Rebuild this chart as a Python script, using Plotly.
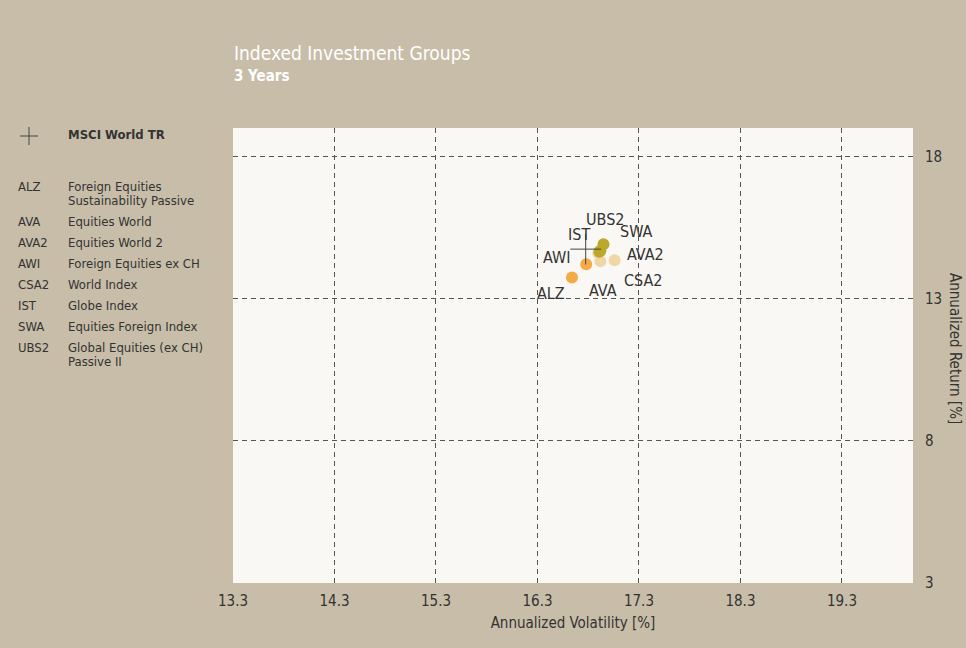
import plotly.graph_objects as go

# ---------------- data ----------------
funds = ["ALZ", "AVA", "AVA2", "AWI", "CSA2", "IST", "SWA", "UBS2"]
fund_names = [
    "Foreign Equities<br>Sustainability Passive",
    "Equities World",
    "Equities World 2",
    "Foreign Equities ex CH",
    "World Index",
    "Globe Index",
    "Equities Foreign Index",
    "Global Equities (ex CH)<br>Passive II",
]
volatility = [16.64, 16.92, 17.06, 16.78, 16.90, 16.91, 16.92, 16.95]
annual_return = [13.74, 14.31, 14.35, 14.21, 14.60, 14.65, 14.68, 14.91]

benchmark_name = "MSCI World TR"
benchmark_vol = [16.775]
benchmark_ret = [14.74]

x_ticks = [13.3, 14.3, 15.3, 16.3, 17.3, 18.3, 19.3]
x_tick_labels = ["13.3", "14.3", "15.3", "16.3", "17.3", "18.3", "19.3"]
y_ticks = [3, 8, 13, 18]
y_tick_labels = ["3", "8", "13", "18"]

# ---------------- styles ----------------
W, H = 966, 648
ML, MR, MT, MB = 233, 53, 128, 65
PW, PH = W - ML - MR, H - MT - MB
FONT = "DejaVu Sans Condensed, Liberation Sans Narrow, sans-serif"
TXT = "#333333"
BG = "#C8BDA8"
PLOT_BG = "#FAF8F4"

point_colors = {
    "ALZ": "#F5AA48", "AWI": "#F5AA48",
    "AVA": "#F0D6A6", "AVA2": "#F0D6A6", "CSA2": "#F0D6A6",
    "IST": "#BBA82A", "SWA": "#BBA82A", "UBS2": "#BBA82A",
}
# label offsets in pixels (dx right, dy down)
label_offsets = {
    "UBS2": (2, -25), "SWA": (36, -19), "IST": (-20, -17), "AWI": (-30, -7),
    "AVA": (3, 29), "AVA2": (31, -6), "CSA2": (45, 27), "ALZ": (-21, 16),
}


def px(x):
    return (x - ML) / PW


def py(y):
    return (H - MB - y) / PH


fig = go.Figure()

fig.add_trace(go.Scatter(
    x=volatility, y=annual_return, mode="markers",
    marker=dict(size=12, color=[point_colors[f] for f in funds], line=dict(width=0)),
    hoverinfo="text", text=funds, showlegend=False,
))
fig.add_trace(go.Scatter(
    x=benchmark_vol, y=benchmark_ret, mode="markers",
    marker=dict(symbol="cross-thin", size=22, line=dict(width=1, color="#444444")),
    showlegend=False, hoverinfo="skip",
))

annotations = []
for f, xv, yv in zip(funds, volatility, annual_return):
    dx, dy = label_offsets[f]
    annotations.append(dict(
        x=xv, y=yv, xref="x", yref="y", text=f, showarrow=False,
        xshift=dx, yshift=-dy, font=dict(family=FONT, size=16, color=TXT),
    ))

# title
annotations.append(dict(x=px(232), y=py(53), xref="paper", yref="paper",
                        text="Indexed Investment Groups", showarrow=False,
                        xanchor="left", yanchor="middle",
                        font=dict(family=FONT, size=19, color="white")))
annotations.append(dict(x=px(232), y=py(76), xref="paper", yref="paper",
                        text="<b>3 Years</b>", showarrow=False,
                        xanchor="left", yanchor="middle",
                        font=dict(family=FONT, size=15, color="white")))

# legend (left column)
annotations.append(dict(x=px(66), y=py(135), xref="paper", yref="paper",
                        text="<b>" + benchmark_name + "</b>", showarrow=False,
                        xanchor="left", yanchor="middle",
                        font=dict(family=FONT, size=13, color=TXT)))
row_y = 186
for f, name in zip(funds, fund_names):
    annotations.append(dict(x=px(16), y=py(row_y), xref="paper", yref="paper",
                            text=f, showarrow=False, xanchor="left", yanchor="middle",
                            font=dict(family=FONT, size=13, color=TXT)))
    lines = name.split("<br>")
    for k, line in enumerate(lines):
        annotations.append(dict(x=px(66), y=py(row_y + 14 * k), xref="paper", yref="paper",
                                text=line, showarrow=False, xanchor="left", yanchor="middle",
                                font=dict(family=FONT, size=13, color=TXT)))
    row_y += 21 + 14 * (len(lines) - 1)

# right axis title, rotated top-to-bottom
annotations.append(dict(x=px(955), y=py(348), xref="paper", yref="paper",
                        text="Annualized Return [%]", showarrow=False, textangle=90,
                        xanchor="center", yanchor="middle",
                        font=dict(family=FONT, size=15, color=TXT)))

shapes = [
    dict(type="line", xref="paper", yref="paper", x0=px(20), x1=px(38), y0=py(136), y1=py(136),
         line=dict(color="#444444", width=1)),
    dict(type="line", xref="paper", yref="paper", x0=px(29), x1=px(29), y0=py(127), y1=py(145),
         line=dict(color="#444444", width=1)),
]

fig.update_layout(
    width=W, height=H,
    margin=dict(l=ML, r=MR, t=MT, b=MB, pad=0),
    paper_bgcolor=BG, plot_bgcolor=PLOT_BG,
    font=dict(family=FONT, size=15, color=TXT),
    annotations=annotations, shapes=shapes,
    showlegend=False,
    xaxis=dict(range=[13.3, 20.0], tickvals=x_ticks, ticktext=x_tick_labels,
               showgrid=True, gridcolor="#555555", gridwidth=1, griddash="5px,4px",
               zeroline=False, showline=False, ticks="", ticklabelstandoff=7,
               tickfont=dict(family=FONT, size=15, color=TXT),
               title=dict(text="Annualized Volatility [%]", standoff=8,
                          font=dict(family=FONT, size=15, color=TXT))),
    yaxis=dict(range=[3, 19], tickvals=y_ticks, ticktext=y_tick_labels, side="right",
               showgrid=True, gridcolor="#555555", gridwidth=1, griddash="5px,4px",
               zeroline=False, showline=False, ticks="", ticklabelstandoff=11,
               tickfont=dict(family=FONT, size=15, color=TXT)),
)

fig.write_html("out.html", config={"displayModeBar": False},
               post_script="document.body.style.margin='0';document.body.style.background='#C8BDA8';")
